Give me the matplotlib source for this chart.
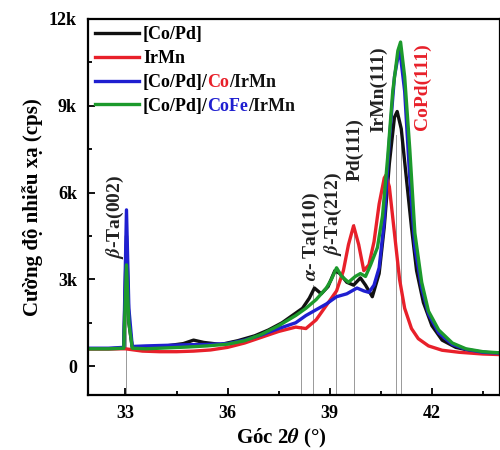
import numpy as np
import matplotlib
matplotlib.use("Agg")
import matplotlib.pyplot as plt
from matplotlib.ticker import MultipleLocator, FuncFormatter

plt.rcParams['font.family'] = ['Liberation Serif', 'DejaVu Serif']
plt.rcParams['font.weight'] = 'bold'
plt.rcParams['mathtext.fontset'] = 'stix'

# [Co/Pd]
x_copd = [31.9, 32.5, 32.95, 33.03, 33.1, 33.2, 33.6, 34.2, 34.7, 35.0, 35.3, 35.8, 36.3, 36.8,
          37.2, 37.6, 37.9, 38.2, 38.4, 38.55, 38.75, 38.95, 39.15, 39.3, 39.5, 39.7, 39.9, 40.05,
          40.25, 40.45, 40.6, 40.75, 40.9, 40.98, 41.1, 41.25, 41.4, 41.55, 41.75, 42.0, 42.3,
          42.7, 43.2, 43.7, 44.0]
y_copd = [600, 600, 620, 4500, 1500, 650, 650, 700, 780, 900, 820, 750, 880, 1050,
          1250, 1500, 1750, 2000, 2350, 2700, 2500, 2750, 3300, 3200, 2900, 2800, 3050, 2800,
          2400, 3200, 4800, 7000, 8600, 8800, 8200, 6500, 4800, 3300, 2200, 1400, 900,
          650, 520, 460, 450]

# IrMn
x_irmn = [31.9, 32.5, 33.0, 33.5, 34.0, 34.5, 35.0, 35.5, 36.0, 36.5, 37.0, 37.5, 38.0, 38.3,
          38.6, 38.9, 39.2, 39.4, 39.55, 39.7, 39.85, 40.0, 40.15, 40.3, 40.45, 40.6, 40.65,
          40.75, 40.9, 41.05, 41.2, 41.4, 41.6, 41.9, 42.3, 42.8, 43.5, 44.0]
y_irmn = [600, 600, 600, 520, 500, 500, 520, 560, 650, 800, 1000, 1200, 1350, 1300,
          1600, 2100, 2600, 3300, 4200, 4850, 4200, 3300, 3500, 4300, 5600, 6500, 6600,
          6200, 4600, 3000, 2000, 1300, 950, 700, 550, 480, 420, 400]

# [Co/Pd]/Co/IrMn
x_co = [31.9, 32.5, 32.95, 33.03, 33.1, 33.2, 33.6, 34.2, 34.8, 35.4, 36.0, 36.5, 37.0, 37.5,
        38.0, 38.3, 38.6, 38.9, 39.2, 39.5, 39.8, 40.0, 40.15, 40.3, 40.45, 40.6, 40.75, 40.9,
        41.05, 41.2, 41.35, 41.5, 41.7, 41.9, 42.2, 42.6, 43.0, 43.5, 44.0]
y_co = [620, 620, 650, 5400, 2000, 680, 700, 720, 740, 750, 780, 900, 1080, 1300,
        1500, 1750, 1950, 2150, 2400, 2500, 2700, 2600, 2550, 2800, 3400, 5000, 7800, 10000,
        11000, 9500, 6500, 4100, 2700, 1800, 1150, 750, 580, 480, 450]

# [Co/Pd]/CoFe/IrMn
x_cofe = [31.9, 32.5, 32.95, 33.03, 33.1, 33.2, 33.6, 34.2, 34.8, 35.4, 36.0, 36.5, 37.0, 37.5,
          38.0, 38.3, 38.6, 38.9, 39.05, 39.2, 39.35, 39.55, 39.75, 39.9, 40.05, 40.2, 40.4,
          40.55, 40.7, 40.85, 41.0, 41.08, 41.2, 41.35, 41.5, 41.7, 41.9, 42.2, 42.6, 43.0,
          43.5, 44.0]
y_cofe = [600, 600, 620, 3500, 1500, 620, 600, 630, 660, 700, 760, 880, 1100, 1400,
          1750, 2000, 2300, 2700, 3000, 3400, 3100, 2900, 3100, 3200, 3100, 3500, 4100,
          5200, 7200, 9500, 10900, 11200, 10000, 7500, 4600, 2900, 1900, 1250, 800, 600,
          500, 460]

# reference lines and peak labels
ref_x = [33.03, 38.16, 38.5, 39.18, 39.72, 40.96, 41.08]
ref_top = [5000, 1400, 2800, 3400, 4900, 8000, 8000]

peak_names = [r"$\beta$-Ta(002)", r"$\alpha$- Ta(110)", r"$\beta$-Ta(212)", "Pd(111)",
              "IrMn(111)", "CoPd(111)"]
peak_x = [32.72, 38.45, 39.1, 39.73, 40.43, 41.72]
peak_y = [3700, 2950, 3800, 6400, 8100, 8150]
peak_col = ['#222222', '#222222', '#222222', '#222222', '#222222', '#e8202a']

fig = plt.figure(figsize=(5, 4.5), dpi=100)
ax = fig.add_axes([0.176, 0.122, 0.824, 0.836])

for xv, top in zip(ref_x, ref_top):
    ax.plot([xv, xv], [-1000, top], color='#999999', lw=0.7, zorder=1)

ax.plot(x_copd, y_copd, color='#111111', lw=2.4, label='[Co/Pd]', zorder=2)
ax.plot(x_irmn, y_irmn, color='#e8202a', lw=2.4, label='IrMn', zorder=2)
ax.plot(x_co, y_co, color='#1f1fd0', lw=2.4, label='[Co/Pd]/', zorder=2)
ax.plot(x_cofe, y_cofe, color='#1c9a2c', lw=2.4, label='[Co/Pd]/', zorder=2)

for t, xv, yv, c in zip(peak_names, peak_x, peak_y, peak_col):
    ax.text(xv, yv, t, rotation=90, ha='center', va='bottom', fontsize=14,
            fontweight='bold', color=c)

ax.set_xlim(31.9, 44.0)
ax.set_ylim(-1000, 12000)
ax.xaxis.set_major_locator(MultipleLocator(3))
ax.xaxis.set_minor_locator(MultipleLocator(1.5))
ax.yaxis.set_major_locator(MultipleLocator(3000))
ax.yaxis.set_minor_locator(MultipleLocator(1500))
ax.yaxis.set_major_formatter(FuncFormatter(lambda v, p: '0' if v == 0 else '%dk' % (v / 1000)))
ax.tick_params(which='both', direction='in', labelsize=13, width=1.3)
ax.tick_params(which='major', length=5)
ax.tick_params(axis='y', which='major', pad=8)
ax.tick_params(axis='x', which='major', pad=7)
ax.tick_params(which='minor', length=3)
for s in ax.spines.values():
    s.set_linewidth(1.6)

ax.set_xlabel(r"Góc 2$\theta$ (°)", fontsize=15, fontweight='bold')
ax.xaxis.set_label_coords(0.468, -0.085)
ax.set_ylabel("Cường độ nhiễu xạ (cps)", fontsize=15, fontweight='bold', labelpad=4)

leg = ax.legend(loc='upper left', frameon=False, handlelength=2.4,
                handletextpad=0.25, labelspacing=0.38, borderaxespad=0.0,
                prop={'weight': 'bold', 'size': 13})
texts = leg.get_texts()

# coloured parts of legend labels
parts = [(texts[2], [('Co', '#e8202a'), ('/IrMn', '#111111')]),
         (texts[3], [('CoFe', '#1f1fd0'), ('/IrMn', '#111111')])]
fig.canvas.draw()
for base, pieces in parts:
    prev = base
    for i, (s, c) in enumerate(pieces):
        dx = -0.8 if i == 0 else 0
        prev = ax.annotate(s, xy=(1, 0), xycoords=prev, xytext=(dx, 0),
                           textcoords='offset points', va='bottom', ha='left',
                           fontsize=13, fontweight='bold', color=c, zorder=10)

fig.savefig('out.png', dpi=100)
